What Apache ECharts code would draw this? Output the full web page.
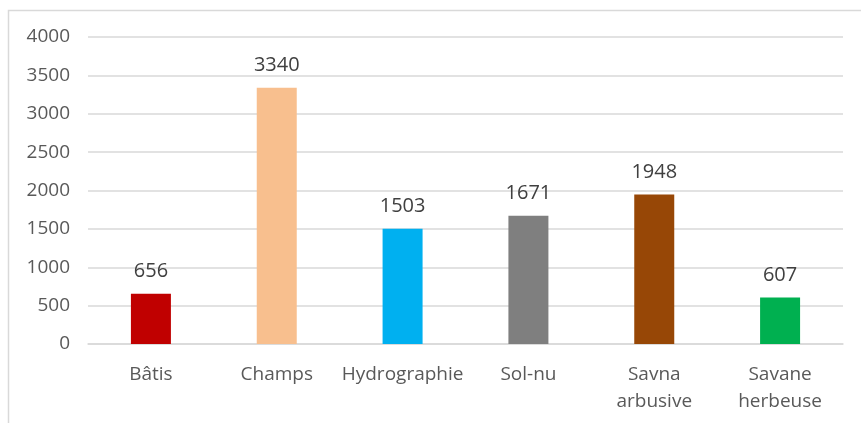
<!DOCTYPE html>
<html>
<head>
<meta charset="utf-8">
<script src="https://cdn.jsdelivr.net/npm/echarts@6/dist/echarts.min.js"></script>
<style>
html,body{margin:0;padding:0;background:#fff;}
#chart{width:861px;height:423px;}
</style>
</head>
<body>
<div id="chart"></div>
<script>
// Land-cover classes and their areas
const categories = ['Bâtis', 'Champs', 'Hydrographie', 'Sol-nu', 'Savna\narbusive', 'Savane\nherbeuse'];
const values = [656, 3340, 1503, 1671, 1948, 607];
const barColors = ['#C00000', '#F8BF8E', '#00B0F0', '#7F7F7F', '#974706', '#00B050'];

const chart = echarts.init(document.getElementById('chart'));
const font = 'Open Sans';
chart.setOption({
  animation: false,
  graphic: [{
    type: 'rect',
    shape: { x: 8.5, y: 10.5, width: 900, height: 500 },
    style: { fill: 'none', stroke: '#d9d9d9', lineWidth: 1.5 },
    silent: true
  }],
  grid: { left: 88, right: 18, top: 37, bottom: 79 },
  xAxis: {
    type: 'category',
    data: categories,
    axisLine: { lineStyle: { color: '#d9d9d9', width: 1.5 } },
    axisTick: { show: false },
    axisLabel: { color: '#595959', fontFamily: font, fontSize: 19, margin: 17, lineHeight: 27, interval: 0 }
  },
  yAxis: {
    type: 'value',
    min: 0, max: 4000, interval: 500,
    axisLine: { show: false },
    axisTick: { show: false },
    splitLine: { lineStyle: { color: '#d9d9d9', width: 1.5 } },
    axisLabel: { color: '#595959', fontFamily: font, fontSize: 19, margin: 18, formatter: v => String(v) }
  },
  series: [{
    type: 'bar',
    barWidth: 40,
    data: values.map((v, i) => ({ value: v, itemStyle: { color: barColors[i] } })),
    label: { show: true, position: 'top', distance: 12, color: '#404040', fontFamily: font, fontSize: 20 }
  }]
});
</script>
</body>
</html>
